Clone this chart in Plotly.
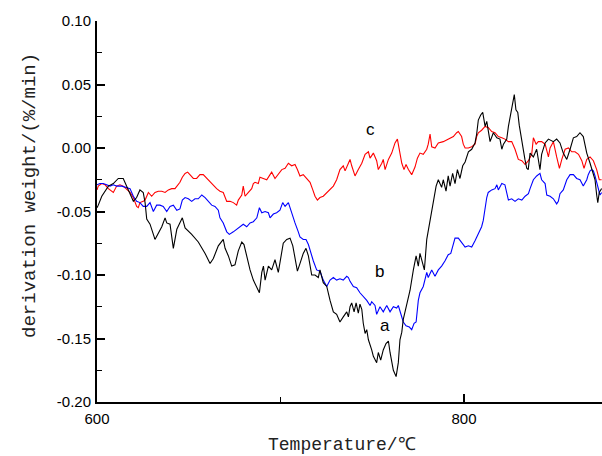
import plotly.graph_objects as go

# Curve a (black)
a_x = [600.0, 600.7, 602.6, 604.4, 606.2, 608.9, 611.6, 614.3, 616.2, 618.0, 619.8, 621.6, 623.4, 625.2, 626.2, 627.1,
       628.9, 631.6, 633.4, 635.3, 637.1, 638.0, 639.8, 641.6, 643.5, 646.5, 648.0, 651.6, 655.2, 658.9, 661.6, 663.4,
       666.1, 668.8, 669.8, 671.6, 673.4, 675.2, 677.0, 678.9, 680.1, 681.6, 683.4, 685.2, 687.1, 688.5, 689.8, 690.7,
       691.6, 693.4, 695.2, 697.0, 698.8, 700.7, 701.5, 703.4, 705.2, 706.7, 707.9, 709.2, 710.6, 712.4, 713.9, 715.2,
       717.0, 718.8, 720.6, 721.5, 723.3, 725.2, 727.0, 728.8, 730.6, 732.4, 734.2, 736.1, 737.0, 737.9, 738.8, 740.1,
       741.2, 742.4, 743.3, 744.3, 745.1, 746.1, 747.0, 747.9, 749.7, 750.6, 752.4, 753.3, 754.6, 756.0, 757.5, 758.8,
       759.7, 760.6, 761.5, 763.0, 764.2, 765.1, 766.1, 766.9, 768.4, 769.7, 770.6, 772.4, 773.9, 775.1, 776.0, 777.5,
       778.4, 779.7, 781.5, 782.4, 783.7, 784.8, 786.0, 787.8, 788.7, 790.2, 791.4, 792.4, 793.8, 795.1, 796.4, 797.8,
       799.3, 800.6, 802.4, 804.2, 806.0, 806.9, 807.8, 809.1, 810.2, 811.5, 812.4, 814.2, 816.0, 817.9, 819.6, 820.6,
       821.5, 823.3, 824.2, 825.1, 826.0, 827.4, 828.3, 829.3, 830.1, 831.1, 832.3, 833.2, 834.2, 835.0, 836.0, 837.8,
       839.6, 841.4, 842.3, 844.2, 846.0, 848.7, 850.5, 852.3, 854.1, 856.0, 857.8, 859.6, 861.4, 863.2, 865.0, 866.9,
       868.7, 870.5, 871.4, 872.3, 872.9, 873.7, 875.0]
a_y = [-0.047, -0.045, -0.038, -0.034, -0.030, -0.028, -0.024, -0.024, -0.030, -0.035, -0.042, -0.039, -0.033, -0.035, -0.043, -0.056,
       -0.060, -0.072, -0.067, -0.062, -0.055, -0.059, -0.060, -0.079, -0.064, -0.055, -0.063, -0.068, -0.074, -0.083, -0.091, -0.087,
       -0.077, -0.072, -0.079, -0.085, -0.093, -0.092, -0.081, -0.074, -0.076, -0.085, -0.096, -0.104, -0.110, -0.114, -0.098, -0.093,
       -0.104, -0.093, -0.096, -0.088, -0.098, -0.083, -0.075, -0.072, -0.071, -0.077, -0.088, -0.097, -0.091, -0.083, -0.079, -0.085,
       -0.100, -0.100, -0.102, -0.096, -0.106, -0.109, -0.120, -0.129, -0.131, -0.137, -0.133, -0.129, -0.133, -0.125, -0.122, -0.129,
       -0.122, -0.130, -0.123, -0.127, -0.138, -0.146, -0.143, -0.151, -0.159, -0.164, -0.169, -0.161, -0.167, -0.159, -0.154, -0.152,
       -0.161, -0.167, -0.175, -0.180, -0.169, -0.151, -0.145, -0.135, -0.125, -0.117, -0.112, -0.096, -0.085, -0.093, -0.083, -0.091,
       -0.096, -0.072, -0.056, -0.051, -0.038, -0.030, -0.025, -0.031, -0.025, -0.034, -0.022, -0.030, -0.020, -0.028, -0.017, -0.024,
       -0.014, -0.011, -0.003, -0.001, 0.004, 0.011, 0.022, 0.026, 0.028, 0.017, 0.021, 0.005, 0.012, 0.008, 0.007, -0.001,
       0.003, 0.007, 0.017, 0.025, 0.033, 0.042, 0.030, 0.028, 0.018, 0.008, -0.001, -0.009, -0.016, -0.017, -0.004, -0.007,
       -0.001, -0.017, -0.005, 0.004, 0.007, 0.005, 0.007, 0.004, -0.004, -0.009, -0.001, 0.008, 0.009, 0.012, 0.009, -0.004,
       -0.012, -0.020, -0.025, -0.037, -0.043, -0.035, -0.032]

# Curve b (blue)
b_x = [600.0, 601.6, 603.4, 607.1, 608.9, 610.7, 613.5, 616.2, 618.0, 619.8, 621.6, 623.4, 625.2, 627.1, 628.9, 630.7,
       632.5, 634.3, 636.1, 638.0, 639.8, 641.6, 643.5, 645.2, 646.5, 648.0, 649.8, 651.6, 653.4, 655.2, 657.1, 658.9,
       660.7, 662.5, 664.3, 666.1, 667.0, 668.8, 670.7, 672.1, 674.3, 676.1, 677.9, 679.7, 681.6, 683.4, 685.2, 687.1,
       688.5, 689.8, 691.6, 693.4, 694.3, 696.1, 697.9, 699.7, 701.2, 702.5, 704.3, 705.2, 706.1, 707.9, 709.7, 710.6,
       712.4, 713.9, 715.2, 716.5, 717.9, 719.7, 721.5, 723.3, 725.2, 727.0, 728.8, 730.6, 732.4, 734.2, 736.1, 737.0,
       737.9, 739.7, 741.5, 743.3, 745.1, 747.0, 748.8, 749.7, 751.5, 752.4, 754.2, 756.0, 757.9, 759.7, 761.5, 763.3,
       764.2, 765.5, 766.9, 768.4, 770.2, 771.5, 772.8, 773.9, 775.1, 776.0, 777.8, 779.7, 780.5, 782.4, 784.2, 786.0,
       787.8, 789.6, 791.4, 792.8, 794.2, 795.1, 796.9, 798.4, 799.6, 800.6, 802.4, 804.2, 806.0, 807.8, 809.6, 810.5,
       811.5, 812.4, 813.2, 815.1, 816.9, 817.9, 818.7, 820.6, 822.3, 823.3, 824.2, 826.0, 827.8, 829.6, 831.5, 833.3,
       835.1, 836.0, 837.8, 839.6, 841.4, 842.3, 844.2, 845.1, 846.9, 848.7, 850.5, 851.4, 852.3, 854.1, 856.0, 857.8,
       859.6, 861.4, 863.2, 865.0, 866.9, 867.7, 868.7, 869.6, 870.5, 871.4, 872.3, 873.2, 874.1, 875.0]
b_y = [-0.029, -0.028, -0.028, -0.030, -0.029, -0.030, -0.030, -0.031, -0.032, -0.038, -0.042, -0.043, -0.046, -0.046, -0.043, -0.050,
       -0.045, -0.045, -0.046, -0.050, -0.046, -0.045, -0.049, -0.048, -0.041, -0.039, -0.040, -0.042, -0.040, -0.040, -0.037, -0.039,
       -0.042, -0.045, -0.046, -0.049, -0.055, -0.059, -0.066, -0.068, -0.066, -0.064, -0.062, -0.060, -0.062, -0.059, -0.058, -0.055,
       -0.047, -0.051, -0.050, -0.051, -0.055, -0.052, -0.051, -0.049, -0.043, -0.046, -0.043, -0.047, -0.052, -0.059, -0.066, -0.070,
       -0.072, -0.072, -0.076, -0.083, -0.089, -0.096, -0.097, -0.104, -0.109, -0.104, -0.102, -0.104, -0.103, -0.104, -0.101, -0.102,
       -0.105, -0.109, -0.110, -0.114, -0.117, -0.120, -0.124, -0.121, -0.124, -0.131, -0.125, -0.129, -0.124, -0.129, -0.125, -0.126,
       -0.124, -0.131, -0.137, -0.140, -0.141, -0.143, -0.138, -0.137, -0.120, -0.114, -0.109, -0.098, -0.102, -0.096, -0.101, -0.096,
       -0.093, -0.089, -0.084, -0.083, -0.075, -0.071, -0.071, -0.074, -0.077, -0.078, -0.077, -0.078, -0.073, -0.068, -0.062, -0.057,
       -0.047, -0.039, -0.035, -0.033, -0.032, -0.029, -0.033, -0.028, -0.029, -0.036, -0.041, -0.040, -0.042, -0.040, -0.041, -0.038,
       -0.036, -0.032, -0.025, -0.022, -0.020, -0.025, -0.028, -0.037, -0.038, -0.040, -0.044, -0.042, -0.036, -0.033, -0.025, -0.021,
       -0.021, -0.024, -0.025, -0.030, -0.025, -0.021, -0.018, -0.017, -0.018, -0.022, -0.027, -0.033, -0.037, -0.035]

# Curve c (red)
c_x = [600.0, 600.7, 602.6, 604.4, 606.2, 608.0, 608.9, 610.7, 612.5, 614.3, 616.2, 618.0, 619.8, 621.6, 622.5, 623.4,
       625.2, 626.2, 628.0, 629.8, 631.6, 633.4, 635.3, 637.1, 638.9, 640.7, 642.5, 644.3, 645.2, 646.5, 648.0, 649.4,
       650.7, 652.5, 654.3, 656.1, 657.9, 659.8, 661.6, 663.4, 665.2, 667.0, 668.8, 670.7, 672.5, 674.3, 676.1, 677.0,
       678.9, 679.7, 680.7, 682.5, 684.3, 685.2, 686.1, 687.9, 688.8, 690.6, 692.5, 694.3, 695.2, 697.0, 698.8, 700.7,
       702.5, 704.3, 706.1, 707.9, 709.2, 710.6, 712.4, 714.3, 716.1, 717.6, 718.8, 720.1, 721.5, 723.3, 725.2, 727.0,
       728.8, 730.6, 732.4, 734.2, 735.2, 737.0, 737.9, 738.8, 740.6, 742.4, 744.3, 746.1, 747.9, 748.8, 750.6, 752.4,
       753.3, 755.2, 756.0, 757.0, 758.8, 760.6, 762.4, 763.7, 764.7, 766.1, 767.3, 768.4, 769.7, 771.5, 773.3, 774.6,
       776.0, 777.8, 779.7, 780.5, 781.5, 782.4, 784.2, 786.0, 788.7, 791.4, 794.2, 796.0, 796.9, 798.7, 799.6, 800.6,
       802.4, 804.2, 806.0, 806.9, 807.8, 809.6, 811.5, 813.3, 815.1, 816.9, 818.7, 820.6, 822.3, 824.2, 826.0, 827.8,
       829.6, 831.5, 833.3, 835.1, 836.9, 837.8, 839.3, 840.5, 842.3, 844.2, 846.0, 846.9, 848.7, 850.5, 852.0, 853.3,
       855.1, 856.9, 858.7, 860.5, 862.4, 864.2, 865.4, 866.9, 868.7, 870.5, 872.3, 873.7, 875.0]
c_y = [-0.033, -0.030, -0.028, -0.029, -0.032, -0.034, -0.035, -0.030, -0.029, -0.030, -0.033, -0.035, -0.039, -0.046, -0.047, -0.043,
       -0.042, -0.041, -0.035, -0.038, -0.035, -0.034, -0.034, -0.035, -0.033, -0.032, -0.032, -0.029, -0.027, -0.023, -0.020, -0.019,
       -0.021, -0.024, -0.024, -0.021, -0.021, -0.024, -0.027, -0.030, -0.032, -0.034, -0.035, -0.042, -0.042, -0.043, -0.045, -0.041,
       -0.037, -0.030, -0.038, -0.035, -0.032, -0.028, -0.027, -0.028, -0.023, -0.024, -0.025, -0.021, -0.019, -0.024, -0.021, -0.017,
       -0.016, -0.012, -0.014, -0.013, -0.017, -0.022, -0.021, -0.024, -0.027, -0.033, -0.038, -0.041, -0.039, -0.038, -0.035, -0.033,
       -0.030, -0.025, -0.017, -0.014, -0.018, -0.012, -0.009, -0.014, -0.022, -0.017, -0.012, -0.005, -0.003, -0.008, -0.004, -0.010,
       -0.017, -0.012, -0.009, -0.017, -0.009, -0.004, 0.004, 0.007, -0.001, -0.012, -0.017, -0.013, -0.017, -0.021, -0.015, -0.008,
       -0.004, -0.005, -0.001, 0.003, 0.011, 0.001, 0.000, 0.004, 0.005, 0.007, 0.009, 0.012, 0.013, 0.009, 0.003, 0.000,
       0.000, 0.001, 0.003, 0.009, 0.012, 0.014, 0.017, 0.016, 0.013, 0.012, 0.009, 0.008, 0.007, 0.005, 0.005, -0.001,
       -0.009, -0.010, -0.013, -0.010, -0.005, 0.008, 0.003, 0.005, 0.005, 0.003, -0.007, 0.000, 0.005, -0.007, -0.016, -0.009,
       -0.001, 0.000, -0.003, -0.003, -0.005, -0.010, -0.016, -0.009, -0.007, -0.010, -0.017, -0.025, -0.025]

series = [("a", a_x, a_y, "#000000"), ("b", b_x, b_y, "#0000ff"), ("c", c_x, c_y, "#ff0000")]

# curve labels (data coordinates)
label_text = ["c", "b", "a"]
label_x = [748.8, 754.2, 757.0]
label_y = [0.0145, -0.0974, -0.140]

x_ticks = [600, 800]
y_ticks = [-0.20, -0.15, -0.10, -0.05, 0.00, 0.05, 0.10]
y_tick_text = ["-0.20", "-0.15", "-0.10", "-0.05", "0.00", "0.05", "0.10"]

fig = go.Figure()
for name, xs, ys, col in series[::-1]:
    fig.add_trace(go.Scatter(x=xs, y=ys, mode="lines", name=name,
                             line=dict(color=col, width=1.1), showlegend=False))

for t, lx, ly in zip(label_text, label_x, label_y):
    fig.add_annotation(x=lx, y=ly, text=t, showarrow=False,
                       font=dict(family="Liberation Sans, Arial", size=17, color="#000"))

fig.add_annotation(xref="paper", yref="paper", x=0.485, y=-0.113, text="Temperature/℃",
                   showarrow=False, xanchor="center", yanchor="middle",
                   font=dict(family="Liberation Mono", size=18, color="#222"))
fig.add_annotation(xref="paper", yref="paper", x=-0.133, y=0.543, text="derivation weight/(%/min)",
                   showarrow=False, textangle=-90, xanchor="center", yanchor="middle",
                   font=dict(family="Liberation Mono", size=19, color="#222"))

fig.update_layout(
    width=602, height=456,
    margin=dict(l=97, r=0, t=21, b=54),
    paper_bgcolor="white", plot_bgcolor="white",
    font=dict(family="Liberation Sans, Arial", size=15, color="#000"),
    xaxis=dict(range=[600, 875.2], tickvals=x_ticks, ticks="inside", ticklen=8, tickwidth=1.5,
               tickcolor="#000", showline=True, linecolor="#000", linewidth=2, showgrid=False,
               zeroline=False, minor=dict(ticks="inside", ticklen=5, tickwidth=1.3, dtick=100,
                                          tick0=600, tickcolor="#000"),
               tickfont=dict(size=15), ticklabelstandoff=2),
    yaxis=dict(range=[-0.20, 0.10], tickvals=y_ticks, ticktext=y_tick_text, ticks="inside",
               ticklen=8, tickwidth=1.5, tickcolor="#000", showline=True, linecolor="#000",
               linewidth=2, showgrid=False, zeroline=False,
               minor=dict(ticks="inside", ticklen=5, tickwidth=1.3, dtick=0.025, tick0=0,
                          tickcolor="#000"),
               tickfont=dict(size=15), ticklabelstandoff=1),
)

fig.write_html("out.html", config={"displayModeBar": False},
               post_script="document.body.style.margin='0';document.body.style.overflow='hidden';")
